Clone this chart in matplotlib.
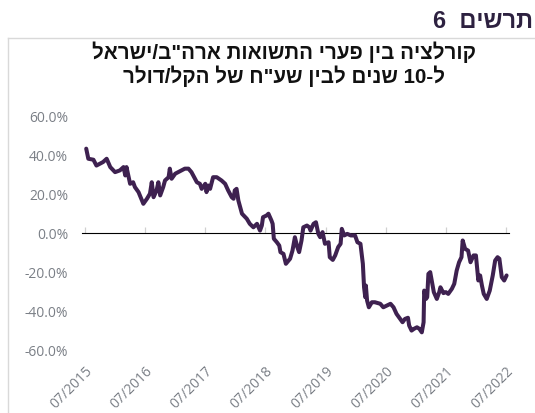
import matplotlib
matplotlib.use("Agg")
import matplotlib.pyplot as plt
from matplotlib.lines import Line2D

# ---- data ----
t = [2015.52, 2015.555, 2015.64, 2015.69, 2015.75, 2015.80, 2015.86, 2015.92, 2016.00, 2016.08,
     2016.14, 2016.17, 2016.19, 2016.25, 2016.30, 2016.33, 2016.39, 2016.47, 2016.53, 2016.58,
     2016.61, 2016.64, 2016.69, 2016.72, 2016.75, 2016.80, 2016.83, 2016.89, 2016.91, 2016.94,
     2017.00, 2017.05, 2017.11, 2017.16, 2017.22, 2017.27, 2017.36, 2017.41, 2017.44, 2017.50,
     2017.52, 2017.55, 2017.58, 2017.63, 2017.69, 2017.77, 2017.83, 2017.88, 2017.94, 2017.97,
     2017.99, 2018.02, 2018.05, 2018.11, 2018.19, 2018.24, 2018.30, 2018.36, 2018.41, 2018.44,
     2018.46, 2018.52, 2018.55, 2018.60, 2018.62, 2018.64, 2018.69, 2018.73, 2018.75, 2018.80,
     2018.84, 2018.91, 2018.95, 2018.99, 2019.03, 2019.06, 2019.10, 2019.13, 2019.19, 2019.23,
     2019.25, 2019.30, 2019.34, 2019.38, 2019.41, 2019.45, 2019.49, 2019.55, 2019.57, 2019.62,
     2019.66, 2019.71, 2019.75, 2019.77, 2019.81, 2019.86, 2019.92, 2019.99, 2020.03, 2020.08,
     2020.12, 2020.14, 2020.16, 2020.17, 2020.19, 2020.22, 2020.27, 2020.32, 2020.41, 2020.46,
     2020.52, 2020.58, 2020.63, 2020.68, 2020.74, 2020.78, 2020.82, 2020.87, 2020.89, 2020.93,
     2020.97, 2021.02, 2021.06, 2021.10, 2021.13, 2021.14, 2021.17, 2021.19, 2021.21, 2021.24,
     2021.27, 2021.30, 2021.35, 2021.39, 2021.41, 2021.46, 2021.50, 2021.54, 2021.60, 2021.64,
     2021.68, 2021.72, 2021.76, 2021.78, 2021.82, 2021.87, 2021.91, 2021.96, 2022.00, 2022.04,
     2022.07, 2022.10, 2022.13, 2022.18, 2022.23, 2022.28, 2022.32, 2022.36, 2022.39, 2022.43,
     2022.47, 2022.51]
corr = [43.7, 38.5, 38.0, 35.0, 36.0, 36.8, 38.5, 34.2, 31.6, 32.5,
        34.2, 29.9, 34.2, 25.6, 26.4, 23.9, 21.3, 15.3, 17.9, 20.5,
        26.4, 18.7, 22.2, 26.4, 19.6, 23.9, 27.3, 29.0, 33.4, 28.2,
        30.8, 31.6, 32.5, 33.4, 33.4, 31.6, 26.4, 25.6, 23.0, 25.6,
        21.3, 24.7, 23.0, 29.0, 29.0, 27.3, 25.6, 22.2, 18.7, 17.9,
        22.2, 23.0, 17.0, 10.2, 7.6, 5.0, 3.2, 5.0, 1.5, 4.1,
        8.4, 9.3, 10.2, 6.7, 5.0, -2.7, -4.5, -6.2, -9.6, -10.5,
        -15.6, -13.0, -8.8, -1.9, -7.0, -9.6, -3.6, 3.2, 4.1, 3.2,
        1.5, 5.0, 5.8, -0.2, -1.9, 0.7, -5.3, -4.5, -12.2, -13.6,
        -11.3, -7.0, -5.3, 2.4, -1.0, -0.2, -1.0, -1.0, -4.5, -5.3,
        -15.6, -27.7, -32.8, -26.8, -34.5, -38.0, -35.4, -35.4, -36.2, -38.0,
        -37.1, -36.2, -38.0, -41.4, -44.0, -45.7, -44.0, -43.4, -47.4, -50.0,
        -49.1, -48.3, -49.1, -50.9, -45.7, -29.4, -33.7, -32.8, -20.8, -19.9,
        -25.1, -30.2, -33.7, -30.2, -27.7, -30.7, -30.2, -31.1, -28.5, -25.9,
        -19.1, -14.8, -12.2, -3.6, -7.9, -8.8, -14.8, -11.3, -11.3, -24.2,
        -21.6, -26.8, -31.1, -33.7, -29.4, -21.6, -13.9, -12.2, -13.0, -22.5,
        -24.2, -21.6]

x_ticks = [2015.5, 2016.5, 2017.5, 2018.5, 2019.5, 2020.5, 2021.5, 2022.5]
x_labels = ["07/2015", "07/2016", "07/2017", "07/2018", "07/2019", "07/2020", "07/2021", "07/2022"]
y_ticks = [60, 40, 20, 0, -20, -40, -60]
y_labels = ["60.0%", "40.0%", "20.0%", "0.0%", "-20.0%", "-40.0%", "-60.0%"]

# Hebrew texts (logical order), converted to visual order for LTR rendering
chart_no = "תרשים"
title_1 = 'קורלציה בין פערי התשואות ארה"ב/ישראל'
title_2_a = 'ל-'
title_2_num = '10'
title_2_b = ' שנים לבין שע"ח של הקל/דולר'

W, H = 535, 413
fig = plt.figure(figsize=(W / 100, H / 100), dpi=100)
fig.patch.set_facecolor("white")

ax_left, ax_bottom = 82, 350
x0, x1 = 2015.45, 2022.55
px_per_year = 60.14
ax_w = (x1 - x0) * px_per_year
ax_h = 350 - 117
ax = fig.add_axes([ax_left / W, (H - ax_bottom) / H, ax_w / W, ax_h / H])

line_color = "#3e2150"
ax.plot(t, corr, color=line_color, lw=2.9, solid_joinstyle="round", solid_capstyle="round", zorder=3)

ax.set_xlim(x0, x1)
ax.set_ylim(-60, 60)
for s in ax.spines.values():
    s.set_visible(False)

tick_font = dict(family=["Open Sans", "DejaVu Sans"], size=10, color="#7a7f86")
ax.set_yticks(y_ticks)
ax.set_yticklabels(y_labels, **tick_font)
ax.tick_params(axis="y", length=0, pad=10)

ax.set_xticks(x_ticks)
ax.set_xticklabels(x_labels, rotation=45, ha="right", rotation_mode="anchor", **tick_font)
ax.tick_params(axis="x", length=0, pad=10)

# zero axis line with tick marks
sec = ax.secondary_xaxis(0.5)
sec.set_xticks(x_ticks)
sec.set_xticklabels([])
sec.spines["bottom"].set_color("#d0d0d0")
sec.spines["bottom"].set_linewidth(0.9)
sec.tick_params(axis="x", direction="out", length=4, color="#d0d0d0", width=0.9)

# frame lines
fig.add_artist(Line2D([8 / W, 1], [1 - 38 / H, 1 - 38 / H], color="#d9d9d9", lw=1))
fig.add_artist(Line2D([8 / W, 8 / W], [1 - 38 / H, 0], color="#d9d9d9", lw=1))

heb = ["Liberation Sans", "DejaVu Sans"]
fig.text(533 / W, 1 - 21 / H, "6  " + chart_no[::-1], ha="right", va="center",
         fontsize=17, fontweight="bold", color="#2d2140", family=heb)
fig.text(284 / W, 1 - 52 / H, title_1[::-1], ha="center", va="center",
         fontsize=14.8, fontweight="bold", color="#111111", family=heb)
fig.text(284 / W, 1 - 76 / H, title_2_b[::-1] + title_2_num + title_2_a[::-1], ha="center", va="center",
         fontsize=14.8, fontweight="bold", color="#111111", family=heb)

fig.savefig("out.png", dpi=100, facecolor="white")
